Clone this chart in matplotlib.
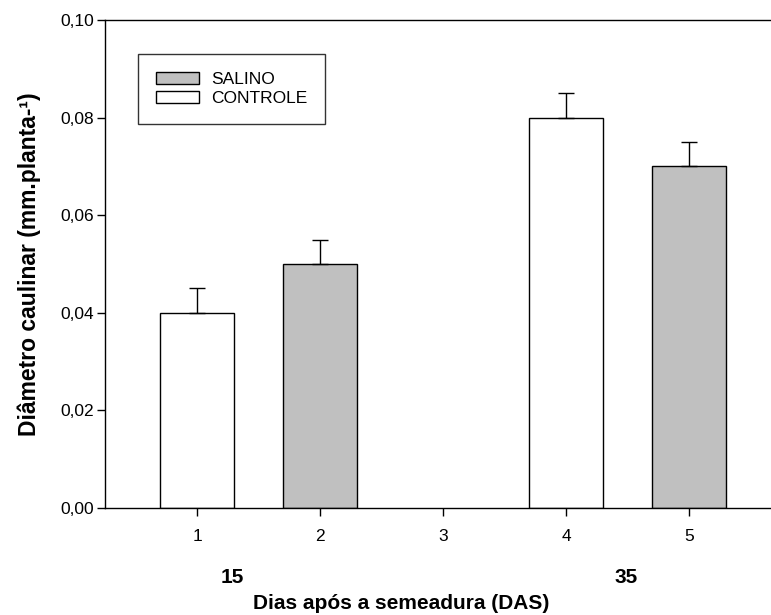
import matplotlib
matplotlib.use("Agg")
import matplotlib.pyplot as plt
import matplotlib.transforms as mtransforms
from matplotlib.patches import Patch

plt.rcParams['font.family'] = ['Liberation Sans', 'DejaVu Sans']

# data
positions = [1, 2, 4, 5]
values = [0.040, 0.050, 0.080, 0.070]
errors = [0.005, 0.005, 0.005, 0.005]
groups = ["CONTROLE", "SALINO", "CONTROLE", "SALINO"]
day_labels = ["15", "35"]
day_pos = [1.29, 4.49]
yticks = [0.00, 0.02, 0.04, 0.06, 0.08, 0.10]
ytick_labels = ["0,00", "0,02", "0,04", "0,06", "0,08", "0,10"]
xticks = [1, 2, 3, 4, 5]

colors = {"SALINO": "#c0c0c0", "CONTROLE": "white"}

fig = plt.figure(figsize=(7.71, 6.15), dpi=100)
ax = fig.add_axes([0.136, 0.174, 0.864, 0.7935])

ax.bar(positions, values, width=0.6, color=[colors[g] for g in groups],
       edgecolor="black", linewidth=1.0, zorder=2)
ax.errorbar(positions, values, yerr=[[0] * len(errors), errors], fmt="none",
            ecolor="black", elinewidth=1.0, capsize=5.5, capthick=1.0, zorder=3)

ax.set_xlim(0.25, 5.665)
ax.set_ylim(0, 0.10)
ax.set_xticks(xticks)
ax.set_xticklabels([str(t) for t in xticks])
ax.set_yticks(yticks)
ax.set_yticklabels(ytick_labels)
ax.tick_params(direction="out", length=6, width=1, labelsize=12.5)
ax.tick_params(axis="y", pad=2)
ax.tick_params(axis="x", pad=9)
ax.spines["right"].set_visible(False)
for s in ["left", "bottom", "top"]:
    ax.spines[s].set_linewidth(1.0)

ax.set_ylabel("Diâmetro caulinar (mm.planta-¹)", fontsize=16.5,
              fontweight="bold", labelpad=14)

trans = mtransforms.blended_transform_factory(ax.transData, ax.transAxes)
for lab, xp in zip(day_labels, day_pos):
    ax.text(xp, -0.143, lab, transform=trans, ha="center", va="center",
            fontsize=15, fontweight="bold")

fig.text(0.52, 0.0195, "Dias após a semeadura (DAS)", ha="center",
         va="center", fontsize=15, fontweight="bold")

handles = [Patch(facecolor=colors["SALINO"], edgecolor="black", label="SALINO"),
           Patch(facecolor=colors["CONTROLE"], edgecolor="black", label="CONTROLE")]
leg = ax.legend(handles=handles, loc="upper left", bbox_to_anchor=(0.05, 0.93),
                frameon=True, fancybox=False, fontsize=12.5, handlelength=2.5,
                handleheight=0.7, handletextpad=0.7, labelspacing=0.25,
                borderpad=1.0, borderaxespad=0)
leg.get_frame().set_edgecolor("black")
leg.get_frame().set_linewidth(1.0)

fig.savefig("out.png", dpi=100)
